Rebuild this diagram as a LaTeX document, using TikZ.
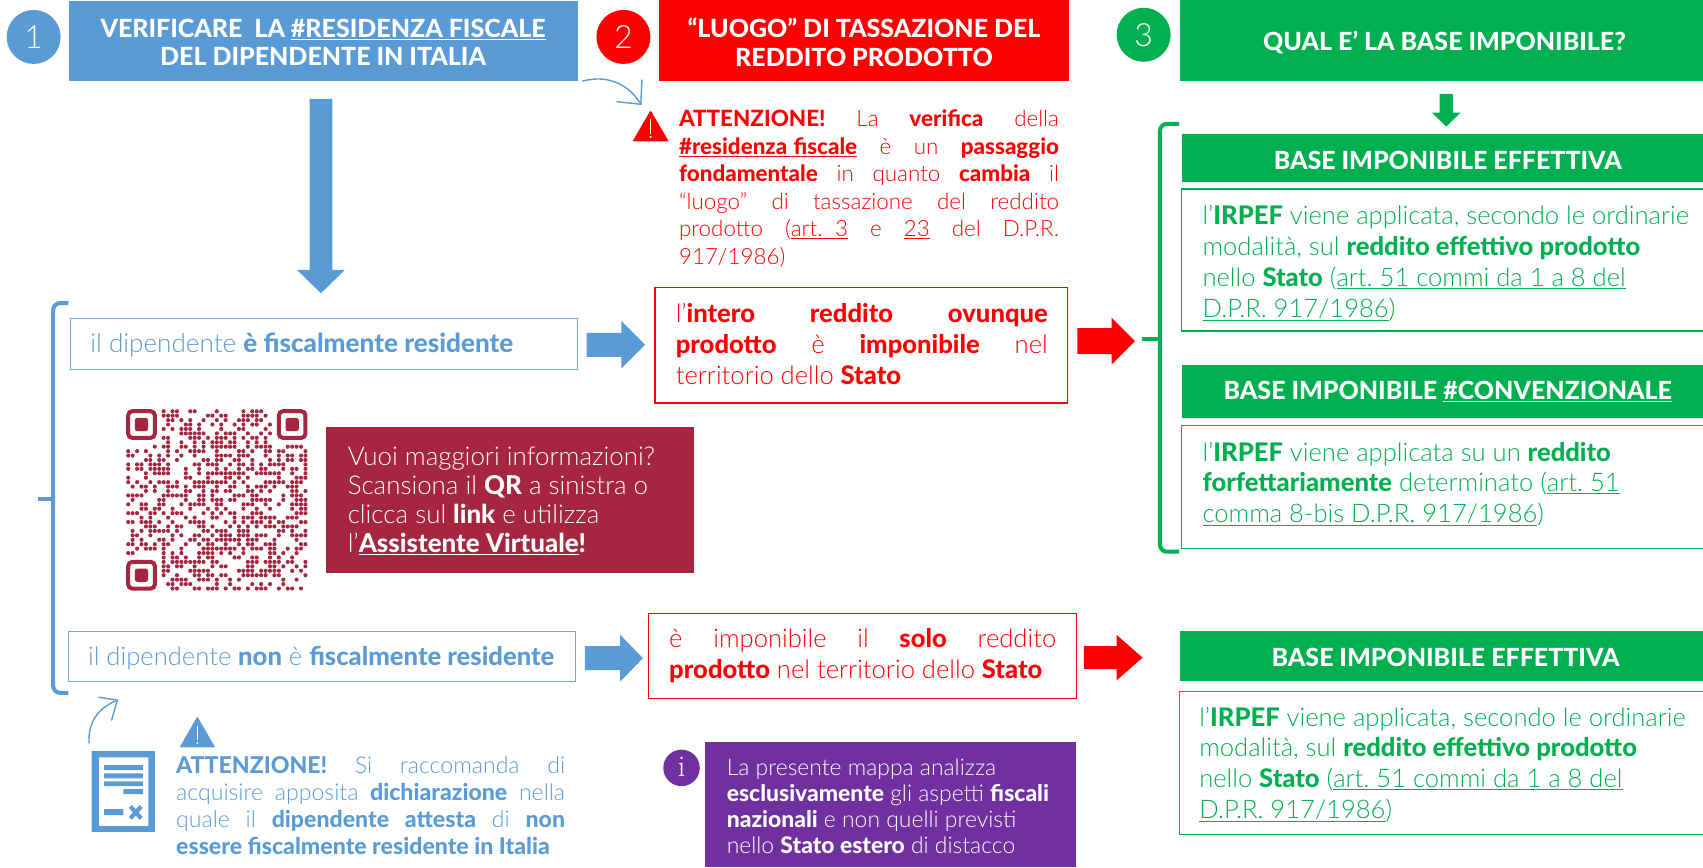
\documentclass[tikz,border=0pt]{standalone}
\usepackage{fontspec}
\setmainfont{Lato}[UprightFont=* Light,BoldFont=* Heavy]
\usetikzlibrary{fit,calc}
\definecolor{cblue}{HTML}{5B9BD5}
\definecolor{cred}{HTML}{FF0000}
\definecolor{cgreen}{HTML}{00B050}
\definecolor{cpurple}{HTML}{7030A0}
\definecolor{ccrim}{HTML}{A6263F}
\newcommand\plines[1]{\begin{tabular}[t]{@{}l@{}}#1\end{tabular}}
\newcommand\JL[2]{\hbox to #1pt{\spaceskip=.28em plus 1fil\relax #2}}
\newcommand\blockarrow[6]{%
  \coordinate (tmpb) at ($(#2)!{#5*1.0861pt}!(#1)$);
  \fill[#6] ($(#1)!{#3*1.0861pt}!90:(#2)$) -- ($(tmpb)!{#3*1.0861pt}!-90:(#1)$) -- ($(tmpb)!{#4*1.0861pt}!-90:(#1)$) -- (#2) -- ($(tmpb)!{#4*1.0861pt}!90:(#1)$) -- ($(tmpb)!{#3*1.0861pt}!90:(#1)$) -- ($(#1)!{#3*1.0861pt}!-90:(#2)$) -- cycle;}
\tikzset{
  head/.style={inner sep=0,text=white,align=center,font=\bfseries\fontsize{25}{28.2}\selectfont},
  numc/.style={circle,inner sep=0,minimum size=54pt,text=white,font=\fontsize{32}{36}\selectfont},
  hbox/.style={inner sep=0,fill=#1},
  obox/.style={inner sep=0,draw=#1,line width=1.2pt,fill=white},
  para/.style={anchor=base west,inner sep=0,align=left,text=#1},
  thinarrow/.style={draw=cblue,line width=1.4pt,line cap=round,line join=round},
  brace/.style={line width=4pt,rounded corners=7pt}
}
\begin{document}\frenchspacing
\begin{tikzpicture}[x=1.0861pt,y=-1.0861pt]
\useasboundingbox (0,0) rectangle (1568,798.27);
% column 1
\node[numc,fill=cblue] (n1) at (31,34) {1};
\node[hbox=cblue,fit={(63.7,0.6) (532,75)}] (b1) {};
\node[head] (b1t) at (297.5,39) {VERIFICARE\ \ LA \underline{\#RESIDENZA FISCALE}\\DEL DIPENDENTE IN ITALIA};
\coordinate (a0s) at (295.5,91); \coordinate (a0e) at (295.5,270);
\blockarrow{a0s}{a0e}{10.5}{22}{21.5}{cblue}
\draw[brace,draw=cblue] (63,279) -- (49,279) -- (49,638) -- (63,638);
\draw[line width=4pt,draw=cblue] (35,459) -- (49,459);
\node[obox=cblue!85,fit={(65,293) (532,340)}] (r1) {};
\node[para=cblue,font=\fontsize{26.1}{28}\selectfont] (r1t) at (83,324.5) {il dipendente \textbf{è fiscalmente residente}};
\coordinate (a1s) at (540,317.5); \coordinate (a1e) at (594,317.5);
\blockarrow{a1s}{a1e}{11}{22}{22}{cblue}
% QR
\begin{scope}[shift={(116,376.6)}]
\pgfmathsetseed{12}
\foreach \r in {0,...,40}{\foreach \c in {0,...,40}{
  \pgfmathparse{int(((\r<8)&&(\c<8))||((\r<8)&&(\c>32))||((\r>32)&&(\c<8))?0:(rnd<0.5?1:0))}
  \ifnum\pgfmathresult=1
    \fill[ccrim] ({(\c+.5)*4.08},{(\r+.5)*4.08}) circle (1.9);
  \fi}}
\foreach \ox/\oy in {0/0,34/0,0/34}{
  \draw[ccrim,line width=4pt,rounded corners=4pt] ({(\ox+.5)*4.08},{(\oy+.5)*4.08}) rectangle ({(\ox+6.5)*4.08},{(\oy+6.5)*4.08});
  \fill[ccrim,rounded corners=2.5pt] ({(\ox+2)*4.08},{(\oy+2)*4.08}) rectangle ({(\ox+5)*4.08},{(\oy+5)*4.08});
}
\end{scope}
\node[hbox=ccrim,fit={(300,393) (639,528)}] (qrb) {};
\node[para=white,font=\fontsize{25.9}{29}\selectfont] (qrt) at (320,428.5) {\plines{Vuoi maggiori informazioni?\\Scansiona il \textbf{QR} a sinistra o\\clicca sul \textbf{link} e utilizza\\l’\textbf{\underline{Assistente Virtuale}!}}};
\node[obox=cblue!85,fit={(63,581.7) (529.6,627.7)}] (r2) {};
\node[para=cblue,font=\fontsize{25.6}{28}\selectfont] (r2t) at (81,612.5) {il dipendente \textbf{non} è \textbf{fiscalmente residente}};
\coordinate (a2s) at (538.6,606); \coordinate (a2e) at (592,606);
\blockarrow{a2s}{a2e}{11}{21.5}{21}{cblue}
% curved arrow up and doc icon
\coordinate (docs) at (82,684); \coordinate (doce) at (108,644.6);
\draw[thinarrow] (docs) .. controls (81,665) and (90,652) .. (doce);
\draw[thinarrow] (91,642) -- (doce) -- (102.8,663);
\fill[cblue,even odd rule] (84.3,691.6) rectangle (142.7,766) (91,697.4) rectangle (136.5,760.6);
\fill[cblue] (95.8,704.4) rectangle (131.6,709) (95.8,712) rectangle (131.6,716.6) (95.8,719.4) rectangle (131.6,723.8) (113.5,726.6) rectangle (131.6,731.2) (95.8,745) rectangle (113.5,750.5);
\draw[cblue,line width=4.2pt] (120,742.5) -- (130,753.5) (130,742.5) -- (120,753.5);
\draw[fill=cblue,draw=cblue,line join=round,line width=1.5pt] (181.7,661) -- (197,687.5) -- (166.5,687.5) -- cycle;
\draw[white,line width=.9pt] (181.7,668) -- (181.7,681);
\fill[white] (181.7,684) circle (1);
\node[para=cblue,font=\fontsize{23.1}{27.2}\selectfont] (warnb) at (162,712) {\plines{\JL{389}{\textbf{ATTENZIONE!} Si raccomanda di}\\\JL{389}{acquisire apposita \textbf{dichiarazione} nella}\\\JL{389}{quale il \textbf{dipendente attesta} di \textbf{non}}\\\textbf{essere fiscalmente residente in Italia}}};
% column 2
\node[numc,fill=cred] (n2) at (574,34) {2};
\node[hbox=cred,fit={(607,0) (984,75)}] (b2) {};
\node[head] (b2t) at (795.5,39) {“LUOGO” DI TASSAZIONE DEL\\REDDITO PRODOTTO};
\coordinate (cs) at (536.5,74.6); \coordinate (ce) at (590,96);
\draw[thinarrow] (cs) .. controls (558,69) and (578,76) .. (ce);
\draw[thinarrow] (568,93.6) -- (ce) -- (591,73.7);
\draw[fill=cred,draw=cred,line join=round,line width=1.5pt] (599,103) -- (614.5,129.5) -- (583.5,129.5) -- cycle;
\draw[white,line width=.9pt] (599,110) -- (599,123);
\fill[white] (599,126) circle (1);
\node[para=cred,font=\fontsize{22.4}{27.6}\selectfont] (warnr) at (625,116.5) {\plines{\JL{380}{\textbf{ATTENZIONE!} La \textbf{verifica} della}\\\JL{380}{\textbf{\underline{\#residenza fiscale}} è un \textbf{passaggio}}\\\JL{380}{\textbf{fondamentale} in quanto \textbf{cambia} il}\\\JL{380}{“luogo” di tassazione del reddito}\\\JL{380}{prodotto (\underline{art.\ \ 3} e \underline{23} del D.P.R.}\\917/1986)}};
\node[obox=cred,fit={(603,265) (983,371)}] (m1) {};
\node[para=cred,font=\fontsize{25.6}{30.9}\selectfont] (m1t) at (622,297) {\plines{\JL{372}{l’\textbf{intero reddito ovunque}}\\\JL{372}{\textbf{prodotto} è \textbf{imponibile} nel}\\territorio dello \textbf{Stato}}};
\coordinate (a3s) at (992,314); \coordinate (a3e) at (1045,314);
\blockarrow{a3s}{a3e}{12}{21.5}{21.5}{cred}
\node[obox=cred,fit={(597,565) (991,643)}] (m2) {};
\node[para=cred,font=\fontsize{25.6}{30.9}\selectfont] (m2t) at (616,596) {\plines{\JL{387}{è imponibile il \textbf{solo} reddito}\\\textbf{prodotto} nel territorio dello \textbf{Stato}}};
\coordinate (a4s) at (998,605.5); \coordinate (a4e) at (1052,605.5);
\blockarrow{a4s}{a4e}{10.5}{21}{24}{cred}
\fill[cpurple] (627.5,707) circle (16.8);
\node[inner sep=0,text=white,font=\fontfamily{lmr}\fontsize{30}{32}\selectfont] (inf) at (627.5,706) {i};
\node[hbox=cpurple,fit={(649,683) (991,798.27)}] (pb) {};
\node[para=white,font=\fontsize{22.9}{26}\selectfont] (pt) at (669,714) {\plines{La presente mappa analizza\\\textbf{esclusivamente} gli aspetti \textbf{fiscali}\\\textbf{nazionali} e non quelli previsti\\nello \textbf{Stato estero} di distacco}};
% column 3
\node[numc,fill=cgreen] (n3) at (1053,32) {3};
\node[hbox=cgreen,fit={(1086,0) (1568,75)}] (b3) {};
\node[head] (b3t) at (1330,39) {QUAL E’ LA BASE IMPONIBILE?};
\coordinate (a5s) at (1331.6,86.5); \coordinate (a5e) at (1331.6,116.6);
\blockarrow{a5s}{a5e}{6.2}{13.2}{13}{cgreen}
\draw[brace,draw=cgreen] (1085.6,114) -- (1068,114) -- (1068,508) -- (1085.6,508);
\draw[line width=4pt,draw=cgreen] (1051,312) -- (1068,312);
\node[hbox=cgreen,fit={(1088,123.4) (1568,167.3)}] (h1) {};
\node[head] (h1t) at (1333,147.5) {BASE IMPONIBILE EFFETTIVA};
\node[obox=cgreen,fit={(1088,174) (1572,304.8)}] (t1) {};
\node[para=cgreen,font=\fontsize{25.6}{30.9}\selectfont] (t1t) at (1107,206.8) {\plines{l’\textbf{IRPEF} viene applicata, secondo le ordinarie\\modalità, sul \textbf{reddito effettivo prodotto}\\nello \textbf{Stato} (\underline{art. 51 commi da 1 a 8 del}\\\underline{D.P.R. 917/1986})}};
\node[hbox=cgreen,fit={(1088,336) (1568,385)}] (h2) {};
\node[head] (h2t) at (1333,360.5) {BASE IMPONIBILE \underline{\#CONVENZIONALE}};
\node[obox=cgreen,fit={(1088,392) (1572,505)}] (t2) {};
\node[para=cgreen,font=\fontsize{25.6}{30.9}\selectfont] (t2t) at (1107,424.5) {\plines{l’\textbf{IRPEF} viene applicata su un \textbf{reddito}\\\textbf{forfettariamente} determinato (\underline{art. 51}\\\underline{comma 8-bis D.P.R. 917/1986})}};
\node[hbox=cgreen,fit={(1086,581) (1568,627)}] (h3) {};
\node[head] (h3t) at (1331,605) {BASE IMPONIBILE EFFETTIVA};
\node[obox=cgreen,fit={(1086,637) (1572,768)}] (t3) {};
\node[para=cgreen,font=\fontsize{25.6}{30.9}\selectfont] (t3t) at (1104,668.5) {\plines{l’\textbf{IRPEF} viene applicata, secondo le ordinarie\\modalità, sul \textbf{reddito effettivo prodotto}\\nello \textbf{Stato} (\underline{art. 51 commi da 1 a 8 del}\\\underline{D.P.R. 917/1986})}};
\end{tikzpicture}
\end{document}
